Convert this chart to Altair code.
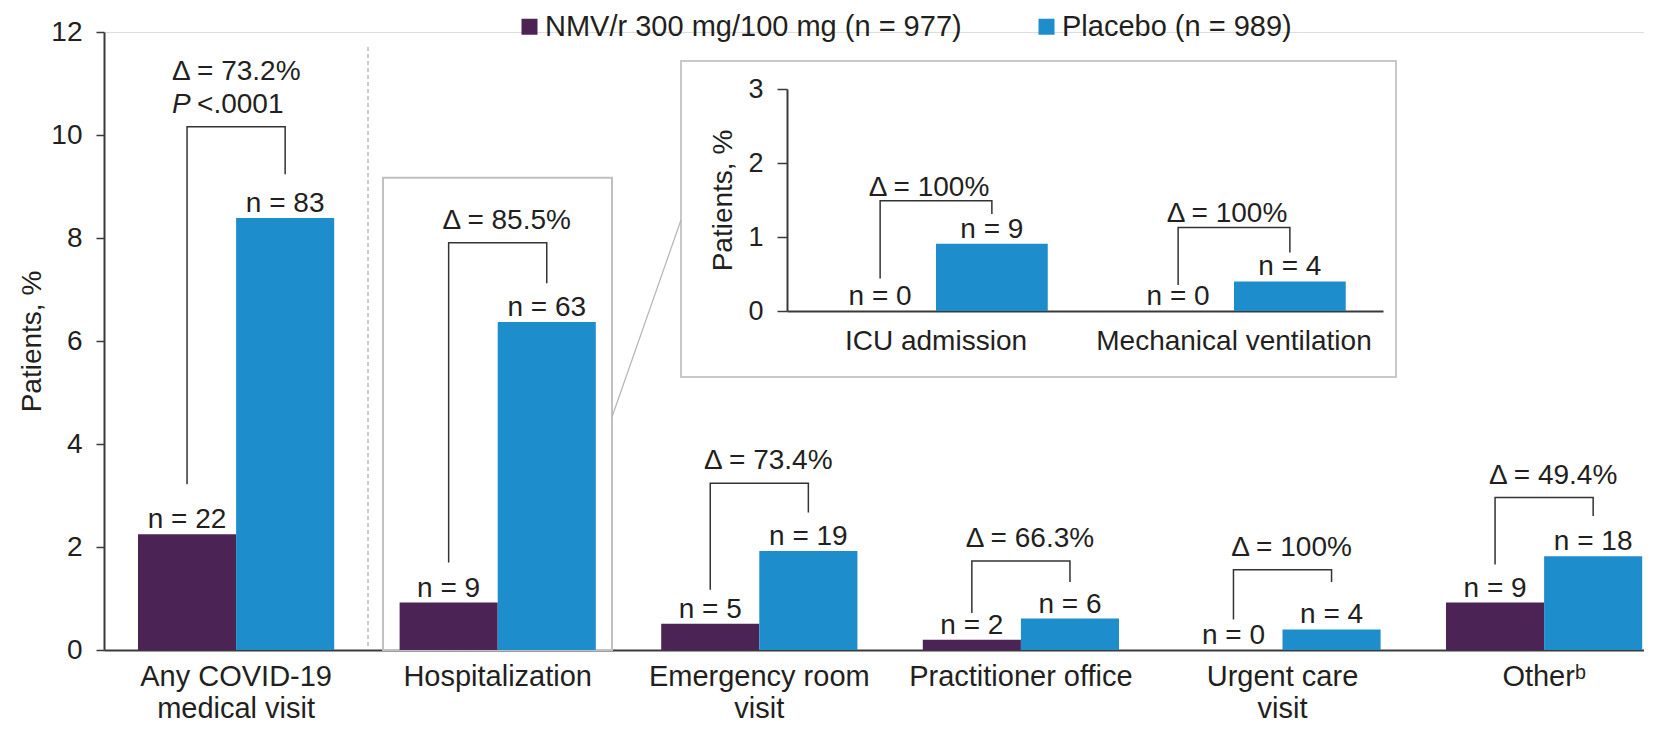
import altair as alt
import pandas as pd

# ---------------- data ----------------
categories = ["Any COVID-19|medical visit", "Hospitalization", "Emergency room|visit",
              "Practitioner office", "Urgent care|visit", "Other\u1d47"]
series = ["NMV/r 300 mg/100 mg (n = 977)", "Placebo (n = 989)"]
nmv_pct = [2.25, 0.92, 0.51, 0.20, 0.0, 0.92]
pbo_pct = [8.39, 6.37, 1.92, 0.61, 0.40, 1.82]
nmv_n = [22, 9, 5, 2, 0, 9]
pbo_n = [83, 63, 19, 6, 4, 18]
delta_labels = ["\u0394 = 73.2%", "\u0394 = 85.5%", "\u0394 = 73.4%", "\u0394 = 66.3%", "\u0394 = 100%", "\u0394 = 49.4%"]
p_label = "<.0001"
bracket_top = [10.16, 7.91, 3.24, 1.73, 1.56, 2.96]
bracket_left_end = [3.22, 1.70, 1.17, 0.72, 0.59, 1.66]
bracket_right_end = [9.24, 7.12, 2.67, 1.32, 1.32, 2.60]

inset_categories = ["ICU admission", "Mechanical ventilation"]
inset_nmv_pct = [0.0, 0.0]
inset_pbo_pct = [0.91, 0.40]
inset_nmv_n = [0, 0]
inset_pbo_n = [9, 4]
inset_delta = ["\u0394 = 100%", "\u0394 = 100%"]
inset_bracket_top = [1.49, 1.13]
inset_left_end = [0.44, 0.35]
inset_right_end = [1.31, 0.79]

hosp_box_top = 9.17

# ---------------- style ----------------
FONT = "Liberation Sans, Arial, Helvetica, sans-serif"
TXT = "#231f20"
AX = "#3a3a3a"
PURPLE = "#4b2455"
BLUE = "#1e8dcc"
W, H = 1540, 618

# ---------------- tables ----------------
def bar_table(cats, a, b, na, nb, cname, vname):
    rows = []
    for i, c in enumerate(cats):
        rows.append({cname: c, "series": series[0], vname: a[i], "n": f"n = {na[i]}"})
        rows.append({cname: c, "series": series[1], vname: b[i], "n": f"n = {nb[i]}"})
    return pd.DataFrame(rows)


def bracket_table(cats, top, le, re, cname, vname):
    rows = []
    for i, c in enumerate(cats):
        pts = [(series[0], le[i]), (series[0], top[i]), (series[1], top[i]), (series[1], re[i])]
        for k, (s, v) in enumerate(pts):
            rows.append({cname: c, "series": s, vname: v, "k": k})
    return pd.DataFrame(rows)


main_df = bar_table(categories, nmv_pct, pbo_pct, nmv_n, pbo_n, "cat", "pct")
main_br = bracket_table(categories, bracket_top, bracket_left_end, bracket_right_end, "cat", "pct")
main_delta = pd.DataFrame({"cat": categories[1:], "pct": bracket_top[1:], "lab": delta_labels[1:]})
first_df = pd.DataFrame({"cat": [categories[0]], "pct": [bracket_top[0]], "lab": [delta_labels[0]], "p": [p_label]})

inset_df = bar_table(inset_categories, inset_nmv_pct, inset_pbo_pct, inset_nmv_n, inset_pbo_n, "icat", "ipct")
inset_br = bracket_table(inset_categories, inset_bracket_top, inset_left_end, inset_right_end, "icat", "ipct")
inset_dl = pd.DataFrame({"icat": inset_categories, "ipct": inset_bracket_top, "lab": inset_delta})

# ---------------- main encodings ----------------
X = alt.X("cat:N", scale=alt.Scale(domain=categories, paddingInner=0.25, paddingOuter=0.0684, align=0.95),
          axis=alt.Axis(title=None, labelExpr="split(datum.label, '|')", ticks=False, labelAngle=0,
                        labelFontSize=29, labelPadding=12, labelLineHeight=32, labelColor=TXT,
                        labelLimit=0, domainColor=AX, domainWidth=2, labelFont=FONT))
XO = alt.XOffset("series:N", scale=alt.Scale(domain=series, paddingInner=0, paddingOuter=0))
Y = alt.Y("pct:Q", scale=alt.Scale(domain=[0, 12], nice=False),
          axis=alt.Axis(values=[0, 2, 4, 6, 8, 10, 12], tickSize=8, tickWidth=1.5, tickColor=AX,
                        domainColor=AX, domainWidth=2, labelFontSize=28, labelPadding=14,
                        labelColor=TXT, labelFont=FONT, grid=False,
                        title="Patients, %", titleFontSize=28, titleFontWeight="normal",
                        titleColor=TXT, titleFont=FONT, titleAngle=270, titleX=-72, titleY=H / 2,
                        titleAlign="center", titleBaseline="middle"))
COLOR = alt.Color("series:N", scale=alt.Scale(domain=series, range=[PURPLE, BLUE]),
                  legend=alt.Legend(title=None, orient="none", legendX=411, legendY=-20,
                                    direction="horizontal", symbolType="square", symbolSize=256,
                                    symbolStrokeWidth=0, labelFontSize=29, labelFont=FONT,
                                    labelColor=TXT, labelOffset=1, columnPadding=70, padding=0,
                                    labelLimit=0))

one = alt.InlineData(values=[{"a": 1}])

dashed = alt.Chart(one).mark_rule(strokeDash=[4, 3], color="#9a9a9a", strokeWidth=1).encode(
    x=alt.value(264), y=alt.value(15), y2=alt.value(H))
hosp_box = alt.Chart(one).mark_rect(filled=False, stroke="#c0c0c0", strokeWidth=2).encode(
    x=alt.value(279), x2=alt.value(508), y=alt.Y(datum=hosp_box_top), y2=alt.Y2(datum=0))
connector = alt.Chart(one).mark_rule(color="#b5b5b5", strokeWidth=1.2).encode(
    x=alt.value(508), x2=alt.value(577), y=alt.value(385), y2=alt.value(188))
inset_frame = alt.Chart(one).mark_rect(filled=False, stroke="#c8c8c8", strokeWidth=2).encode(
    x=alt.value(577), x2=alt.value(1292), y=alt.value(29), y2=alt.value(345))

bars = alt.Chart(main_df).mark_bar().encode(x=X, xOffset=XO, y=Y, color=COLOR)
nlab = alt.Chart(main_df).mark_text(baseline="alphabetic", dy=-6, fontSize=28, font=FONT, color=TXT).encode(
    x=X, xOffset=XO, y=Y, text="n:N")
brk = alt.Chart(main_br).mark_line(color="#333333", strokeWidth=1.5).encode(
    x=X, xOffset=XO, y=Y, detail="cat:N", order="k:Q")
dlab = alt.Chart(main_delta).mark_text(baseline="alphabetic", dy=-14, dx=9, fontSize=28, font=FONT, color=TXT).encode(
    x=X, y=Y, text="lab:N")
d0 = alt.Chart(first_df).mark_text(baseline="alphabetic", align="left", dy=-47, dx=-64, fontSize=28,
                                   font=FONT, color=TXT).encode(x=X, y=Y, text="lab:N")
p0 = alt.Chart(first_df).mark_text(baseline="alphabetic", align="left", dy=-14, dx=-64, fontSize=28,
                                   font=FONT, color=TXT, fontStyle="italic").encode(
    x=X, y=Y, text=alt.value("P"))
p1 = alt.Chart(first_df).mark_text(baseline="alphabetic", align="left", dy=-14, dx=-39, fontSize=28,
                                   font=FONT, color=TXT).encode(x=X, y=Y, text="p:N")

main = alt.layer(inset_frame, dashed, hosp_box, connector, bars, brk, nlab, dlab, d0, p0, p1)

# ---------------- inset ----------------
IX = alt.X("icat:N", scale=alt.Scale(domain=inset_categories, range=[683, 1279], paddingInner=0.25,
                                     paddingOuter=0.125),
           axis=alt.Axis(orient="bottom", offset=-339, title=None, ticks=False, labelAngle=0,
                         labelFontSize=28, labelPadding=16, labelColor=TXT, labelFont=FONT,
                         labelLimit=0, domainColor=AX, domainWidth=2))
IXO = alt.XOffset("series:N", scale=alt.Scale(domain=series, paddingInner=0, paddingOuter=0))
IY = alt.Y("ipct:Q", scale=alt.Scale(domain=[0, 3], range=[279, 57], nice=False),
           axis=alt.Axis(orient="left", offset=-683, values=[0, 1, 2, 3], tickSize=10, tickWidth=1.5,
                         tickColor=AX, domainColor=AX, domainWidth=2, labelFontSize=27, labelPadding=14,
                         labelColor=TXT, labelFont=FONT, grid=False,
                         title="Patients, %", titleFontSize=28, titleFontWeight="normal", titleColor=TXT,
                         titleFont=FONT, titleAngle=270, titleX=-64, titleY=168,
                         titleAlign="center", titleBaseline="middle"))

ibars = alt.Chart(inset_df).mark_bar().encode(x=IX, xOffset=IXO, y=IY, color=COLOR)
inlab = alt.Chart(inset_df).mark_text(baseline="alphabetic", dy=-6, fontSize=28, font=FONT, color=TXT).encode(
    x=IX, xOffset=IXO, y=IY, text="n:N")
ibrk = alt.Chart(inset_br).mark_line(color="#333333", strokeWidth=1.5).encode(
    x=IX, xOffset=IXO, y=IY, detail="icat:N", order="k:Q")
idlab = alt.Chart(inset_dl).mark_text(baseline="alphabetic", dy=-5, dx=-7, fontSize=28, font=FONT, color=TXT).encode(
    x=IX, y=IY, text="lab:N")

inset = alt.layer(ibars, ibrk, inlab, idlab)

chart = alt.layer(main, inset).resolve_scale(
    x="independent", y="independent", xOffset="independent"
).properties(
    width=W, height=H,
    autosize=alt.AutoSizeParams(type="none"),
    padding={"left": 96, "top": 24, "right": 0, "bottom": 73},
).configure_view(stroke=None).configure(font=FONT)

chart.save("out.html", embed_options={"renderer": "svg", "actions": False})
